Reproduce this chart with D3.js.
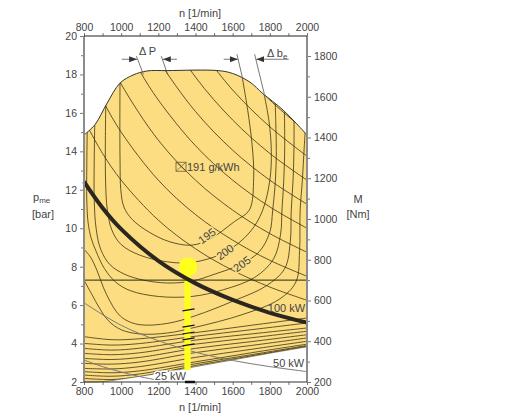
<!DOCTYPE html>
<html>
<head>
<meta charset="utf-8">
<script src="https://cdn.jsdelivr.net/npm/d3@7"></script>
<style>
  body { margin: 0; background: #fff; }
  svg { font-family: "Liberation Sans", Arial, sans-serif; }
</style>
</head>
<body>
<div id="chart"></div>
<script>
// Achsen
const nTicks = [800, 1000, 1200, 1400, 1600, 1800, 2000];
const nMinor = [900, 1100, 1300, 1500, 1700, 1900];
const pTicks = [2, 4, 6, 8, 10, 12, 14, 16, 18, 20];
const pMinor = [3, 5, 7, 9, 11, 13, 15, 17, 19];
const mTicks = [200, 400, 600, 800, 1000, 1200, 1400, 1600, 1800];
const mMinor = [300, 500, 700, 900, 1100, 1300, 1500, 1700];

// Kennfeldgrenzen (n, pme)
const fullLoad = [[800, 14.85], [860, 15.4], [924, 16.5], [994, 17.55], [1064, 17.97], [1139, 18.18],
  [1247, 18.2], [1521, 18.2], [1600, 18.05], [1693, 17.6], [1763, 17.0], [1871, 16.15], [2000, 14.85]];
const lowerEdge = [[800, 2.0], [900, 2.02], [1000, 2.15], [1200, 2.45], [1400, 2.8], [1600, 3.15],
  [1800, 3.5], [2000, 3.83]];

// Leistungshyperbeln 125 ... 300 kW
const kwValues = [125, 150, 175, 200, 225, 250, 275, 300];
const kwLines = [
  [[800, 15.63], [900, 13.89], [1000, 12.5], [1200, 10.42], [1400, 8.93], [1600, 7.81], [1800, 6.94], [2000, 6.25]],
  [[800, 18.75], [900, 16.67], [1000, 15.0], [1200, 12.5], [1400, 10.71], [1600, 9.38], [1800, 8.33], [2000, 7.5]],
  [[900, 19.44], [1000, 17.5], [1200, 14.58], [1400, 12.5], [1600, 10.94], [1800, 9.72], [2000, 8.75]],
  [[1000, 20.0], [1100, 18.18], [1200, 16.67], [1400, 14.29], [1600, 12.5], [1800, 11.11], [2000, 10.0]],
  [[1100, 20.45], [1200, 18.75], [1400, 16.07], [1600, 14.06], [1800, 12.5], [2000, 11.25]],
  [[1200, 20.83], [1400, 17.86], [1600, 15.63], [1800, 13.89], [2000, 12.5]],
  [[1400, 19.64], [1600, 17.19], [1800, 15.28], [2000, 13.75]],
  [[1500, 20.0], [1600, 18.75], [1800, 16.67], [2000, 15.0]]
];
const kw100 = [[800, 12.42], [900, 11.05], [1000, 9.95], [1200, 8.3], [1400, 7.13], [1600, 6.27], [1800, 5.6], [2000, 5.09]];
const kw50 = [[800, 6.12], [1000, 4.95], [1200, 4.15], [1400, 3.55], [1600, 3.12], [1800, 2.8], [2000, 2.54]];
const kw25 = [[800, 3.14], [900, 2.8], [1000, 2.52], [1100, 2.28], [1200, 2.09], [1260, 1.98]];

// Muschelkurven spez. Verbrauch (g/kWh)
const beValues = [195, 200, 205, 210, 215, 220];
const beLines = [
  [[994, 18.0], [993, 15.5], [994, 13.5], [998, 12.0], [1015, 11.1], [1060, 10.45], [1150, 9.8], [1260, 9.3],
    [1381, 9.12], [1480, 9.45], [1610, 10.35], [1690, 10.95], [1713, 12.6], [1705, 14.3], [1680, 16.2], [1645, 18.2]],
  [[918, 17.0], [915, 14.5], [916, 12.5], [925, 11.0], [950, 9.9], [1000, 9.15], [1100, 8.6], [1250, 8.25],
    [1381, 8.22], [1560, 8.75], [1693, 9.8], [1760, 10.9], [1800, 12.5], [1808, 14.0], [1795, 15.6], [1760, 17.4]],
  [[859, 16.0], [855, 13.5], [855, 11.5], [865, 10.0], [890, 8.9], [940, 8.1], [1020, 7.6], [1120, 7.3],
    [1250, 7.15], [1381, 7.25], [1500, 7.6], [1650, 8.15], [1745, 8.8], [1800, 9.8], [1815, 10.9], [1830, 12.5],
    [1835, 14.0], [1832, 15.5], [1828, 16.9]],
  [[818, 15.5], [815, 13.2], [815, 11.5], [822, 10.3], [838, 9.5], [865, 8.8], [910, 7.9], [970, 7.2],
    [1050, 6.75], [1200, 6.45], [1381, 6.45], [1550, 6.8], [1720, 7.45], [1820, 8.4], [1858, 9.7], [1865, 10.9],
    [1875, 12.5], [1880, 14.2], [1878, 16.4]],
  [[800, 8.9], [835, 8.5], [870, 7.8], [905, 6.9], [940, 6.2], [975, 5.65], [1020, 5.25], [1100, 4.98],
    [1250, 5.05], [1400, 5.45], [1600, 6.2], [1780, 7.0], [1880, 7.9], [1910, 9.3], [1915, 10.9], [1925, 12.5],
    [1930, 14.2], [1930, 15.9]],
  [[800, 7.3], [840, 6.6], [880, 5.9], [930, 5.2], [1000, 4.72], [1100, 4.5], [1250, 4.55], [1400, 4.85],
    [1650, 5.5], [1850, 6.3], [1940, 7.2], [1960, 8.8], [1963, 10.9], [1975, 12.5], [1985, 14.2], [1992, 15.3]]
];
// Schwachlastlinien
const lowLoadLines = [
  [[800, 4.36], [950, 4.2], [1100, 4.25], [1400, 4.57], [1700, 4.95], [2000, 5.33]],
  [[800, 4.01], [950, 3.92], [1100, 4.0], [1400, 4.38], [1700, 4.72], [2000, 5.07]],
  [[800, 3.75], [950, 3.66], [1100, 3.76], [1400, 4.18], [1700, 4.5], [2000, 4.81]],
  [[800, 3.49], [950, 3.42], [1100, 3.52], [1400, 3.97], [1700, 4.3], [2000, 4.64]],
  [[800, 3.23], [950, 3.17], [1100, 3.28], [1400, 3.75], [1700, 4.1], [2000, 4.46]],
  [[800, 2.97], [950, 2.93], [1100, 3.04], [1400, 3.53], [1700, 3.9], [2000, 4.29]],
  [[800, 2.71], [950, 2.68], [1100, 2.8], [1400, 3.28], [1700, 3.7], [2000, 4.12]],
  [[800, 2.54], [950, 2.48], [1100, 2.58], [1400, 3.05], [1700, 3.52], [2000, 3.97]],
  [[800, 2.36], [950, 2.3], [1100, 2.42], [1400, 2.95], [1700, 3.42], [2000, 3.9]],
  [[800, 2.19], [950, 2.13], [1100, 2.28], [1400, 2.86], [1700, 3.36], [2000, 3.86]]
];

// Bestpunkt, Beschriftungen
const bestPoint = [1322, 13.2];
const beLabelPos = [[1462, 9.6], [1559, 8.76], [1650, 8.14]];
const refP = 7.3;

// gelber Betriebsbereich bei n = 1350
const bandN = [1340, 1374];
const bandP = [2.62, 7.6];
const blobN = [1312, 1408];
const blobP = [7.55, 8.45];
const bandTicks = [5.75, 4.91, 4.55, 4.24, 3.93];
const axisMark = [1343, 1397];

// Delta P und Delta be
const arrowP = 18.79;
const dpArrows = [[1003, 1086], [1300, 1224]];
const dpLeaders = [[[1082, 18.95], [1120, 18.0]], [[1216, 18.95], [1250, 18.0]]];
const dbArrows = [[1552, 1628], [1902, 1727]];
const dbLeaders = [[[1623, 19.05], [1652, 17.85]], [[1718, 19.05], [1770, 17.0]]];

// Konfiguration
const W = 509, H = 417;
const yellow = "#fcdd82";
const ink = "#3b3312";
const textCol = "#444";

const x = d3.scaleLinear().domain([800, 2000]).range([84, 307]);
const y = d3.scaleLinear().domain([2, 20]).range([382, 36]);
const yM = d3.scaleLinear().domain([200, 1898]).range([382, 36]);

const line = d3.line().x(d => x(d[0])).y(d => y(d[1])).curve(d3.curveCatmullRom.alpha(0.5));

const svg = d3.select("#chart").append("svg")
  .attr("width", W).attr("height", H);

const defs = svg.append("defs");
const envelopePath = line(fullLoad) + line(lowerEdge.slice().reverse()).replace(/^M/, "L") + "Z";
defs.append("clipPath").attr("id", "env").append("path").attr("d", envelopePath);
defs.append("clipPath").attr("id", "plot").append("rect")
  .attr("x", x(800)).attr("y", y(20)).attr("width", x(2000) - x(800)).attr("height", y(2) - y(20));
defs.append("marker").attr("id", "arr")
  .attr("markerUnits", "userSpaceOnUse").attr("markerWidth", 8).attr("markerHeight", 6)
  .attr("refX", 8).attr("refY", 3).attr("orient", "auto")
  .append("path").attr("d", "M0,0L8,3L0,6Z").attr("fill", "#333");

// Kennfeld
svg.append("path").attr("d", envelopePath).attr("fill", yellow);

const inner = svg.append("g").attr("clip-path", "url(#env)")
  .attr("fill", "none").attr("stroke", ink).attr("stroke-width", 0.8);
inner.selectAll(".kw").data(kwLines).enter().append("path").attr("d", line);
inner.selectAll(".be").data(beLines).enter().append("path").attr("d", line);
inner.selectAll(".low").data(lowLoadLines).enter().append("path").attr("d", line);

svg.append("path").attr("d", line(fullLoad)).attr("fill", "none").attr("stroke", "#333").attr("stroke-width", 1);
svg.append("path").attr("d", line(lowerEdge)).attr("fill", "none").attr("stroke", ink).attr("stroke-width", 0.6);

// 50 kW und 25 kW
const grey = svg.append("g").attr("clip-path", "url(#plot)").attr("fill", "none")
  .attr("stroke", "#7a7a7a").attr("stroke-width", 1);
grey.append("path").attr("d", line(kw50));
grey.append("path").attr("d", line(kw25));

// gelber Balken
svg.append("rect")
  .attr("x", x(bandN[0])).attr("y", y(bandP[1]))
  .attr("width", x(bandN[1]) - x(bandN[0])).attr("height", y(bandP[0]) - y(bandP[1]))
  .attr("fill", "#ffff1e");
svg.append("rect")
  .attr("x", x(blobN[0])).attr("y", y(blobP[1]))
  .attr("width", x(blobN[1]) - x(blobN[0])).attr("height", y(blobP[0]) - y(blobP[1]))
  .attr("rx", 7).attr("fill", "#ffff1e");
svg.selectAll(".bt").data(bandTicks).enter().append("line")
  .attr("x1", x(1330)).attr("x2", x(1395))
  .attr("y1", d => y(d) + 1).attr("y2", d => y(d) - 1)
  .attr("stroke", "#111").attr("stroke-width", 1.2);

// Bezugslinie und 100 kW
svg.append("line")
  .attr("x1", x(800)).attr("x2", x(2000)).attr("y1", y(refP)).attr("y2", y(refP))
  .attr("stroke", "#2a2a10").attr("stroke-width", 1);
svg.append("path").attr("d", line(kw100)).attr("fill", "none")
  .attr("stroke", "#2b2620").attr("stroke-width", 4);

// Beschriftungen im Kennfeld
const lab = svg.append("g").attr("fill", textCol).attr("font-size", 11);
lab.selectAll(".bel").data(beLabelPos).enter().append("text")
  .attr("transform", d => `translate(${x(d[0])},${y(d[1])}) rotate(-36)`)
  .attr("text-anchor", "middle").attr("dy", "0.35em")
  .attr("stroke", yellow).attr("stroke-width", 3).attr("paint-order", "stroke")
  .text((d, i) => beValues[i]);

const bx = x(bestPoint[0]), by = y(bestPoint[1]);
svg.append("rect").attr("x", bx - 5).attr("y", by - 4.5).attr("width", 10).attr("height", 9)
  .attr("fill", "none").attr("stroke", "#6b5a30").attr("stroke-width", 0.8);
svg.append("path").attr("d", `M${bx - 5},${by - 4.5}L${bx + 5},${by + 4.5}M${bx - 5},${by + 4.5}L${bx + 5},${by - 4.5}`)
  .attr("stroke", "#6b5a30").attr("stroke-width", 0.7);
lab.append("text").attr("x", bx + 6).attr("y", by + 4).text("191 g/kWh");

lab.append("text").attr("x", x(1990)).attr("y", y(5.62)).attr("text-anchor", "end").text("100 kW");
lab.append("text").attr("x", x(1985)).attr("y", y(2.78)).attr("text-anchor", "end").text("50 kW");
lab.append("text").attr("x", x(1265)).attr("y", y(2.08)).attr("text-anchor", "middle")
  .attr("stroke", "#fff").attr("stroke-width", 3).attr("paint-order", "stroke").text("25 kW");

// Achsen
const fmt = d3.format("d");
function styleAxis(g) {
  g.select(".domain").remove();
  g.selectAll("line").attr("stroke", "#777");
  g.selectAll("text").attr("fill", textCol).attr("font-size", 10.5)
    .attr("font-family", "'Liberation Sans', Arial, sans-serif");
}

svg.append("g").attr("transform", `translate(0,${y(20)})`)
  .call(d3.axisTop(x).tickValues(nTicks).tickSize(3).tickPadding(2).tickFormat(fmt)).call(styleAxis);
svg.append("g").attr("transform", `translate(0,${y(20)})`)
  .call(d3.axisTop(x).tickValues(nMinor).tickSize(3).tickFormat("")).call(styleAxis);
svg.append("g").attr("transform", `translate(0,${y(2)})`)
  .call(d3.axisBottom(x).tickValues(nTicks).tickSize(3).tickPadding(3).tickFormat(fmt)).call(styleAxis);
svg.append("g").attr("transform", `translate(0,${y(2)})`)
  .call(d3.axisBottom(x).tickValues(nMinor).tickSize(3).tickFormat("")).call(styleAxis);
svg.append("g").attr("transform", `translate(${x(800)},0)`)
  .call(d3.axisLeft(y).tickValues(pTicks).tickSize(4).tickPadding(3).tickFormat(fmt)).call(styleAxis);
svg.append("g").attr("transform", `translate(${x(800)},0)`)
  .call(d3.axisLeft(y).tickValues(pMinor).tickSize(3).tickFormat("")).call(styleAxis);
svg.append("g").attr("transform", `translate(${x(2000)},0)`)
  .call(d3.axisRight(yM).tickValues(mTicks).tickSize(4).tickPadding(3).tickFormat(fmt)).call(styleAxis);
svg.append("g").attr("transform", `translate(${x(2000)},0)`)
  .call(d3.axisRight(yM).tickValues(mMinor).tickSize(3).tickFormat("")).call(styleAxis);

// Rahmen
svg.append("line").attr("x1", x(800)).attr("x2", x(800)).attr("y1", y(2)).attr("y2", y(20))
  .attr("stroke", "#8c8c8c").attr("stroke-width", 2);
svg.append("line").attr("x1", x(2000)).attr("x2", x(2000)).attr("y1", y(2)).attr("y2", y(20))
  .attr("stroke", "#8c8c8c").attr("stroke-width", 2);
svg.append("line").attr("x1", x(800)).attr("x2", x(2000)).attr("y1", y(20)).attr("y2", y(20))
  .attr("stroke", "#222").attr("stroke-width", 1.2);
svg.append("line").attr("x1", x(800)).attr("x2", x(2000)).attr("y1", y(2)).attr("y2", y(2))
  .attr("stroke", "#333").attr("stroke-width", 1.2);
svg.append("line").attr("x1", x(axisMark[0])).attr("x2", x(axisMark[1])).attr("y1", y(2)).attr("y2", y(2))
  .attr("stroke", "#111").attr("stroke-width", 2.5);

// Achsentitel
const at = svg.append("g").attr("fill", textCol).attr("font-size", 11);
at.append("text").attr("x", 200).attr("y", 17).attr("text-anchor", "middle").text("n [1/min]");
at.append("text").attr("x", 200).attr("y", 411).attr("text-anchor", "middle").text("n [1/min]");
const pme = at.append("text").attr("x", 33).attr("y", 201);
pme.append("tspan").text("p");
pme.append("tspan").attr("font-size", 8).attr("dy", 2).text("me");
at.append("text").attr("x", 43).attr("y", 218).attr("text-anchor", "middle").text("[bar]");
at.append("text").attr("x", 358).attr("y", 203).attr("text-anchor", "middle").text("M");
at.append("text").attr("x", 358).attr("y", 218).attr("text-anchor", "middle").text("[Nm]");

// Delta P / Delta be
const ann = svg.append("g").attr("stroke", "#555").attr("stroke-width", 0.8).attr("fill", "none");
ann.selectAll(".lead").data(dpLeaders.concat(dbLeaders)).enter().append("path")
  .attr("d", d3.line().x(d => x(d[0])).y(d => y(d[1])));
ann.selectAll(".arw").data(dpArrows.concat(dbArrows)).enter().append("line")
  .attr("x1", d => x(d[0])).attr("x2", d => x(d[1]))
  .attr("y1", y(arrowP)).attr("y2", y(arrowP))
  .attr("marker-end", "url(#arr)");

const dl = svg.append("g").attr("fill", textCol).attr("font-size", 11);
dl.append("text").attr("x", x(1142)).attr("y", y(19.0)).attr("text-anchor", "middle").text("\u0394 P");
const dbe = dl.append("text").attr("x", x(1785)).attr("y", y(18.92));
dbe.append("tspan").text("\u0394 b");
dbe.append("tspan").attr("font-size", 8).attr("dy", 2).text("e");
</script>
</body>
</html>
